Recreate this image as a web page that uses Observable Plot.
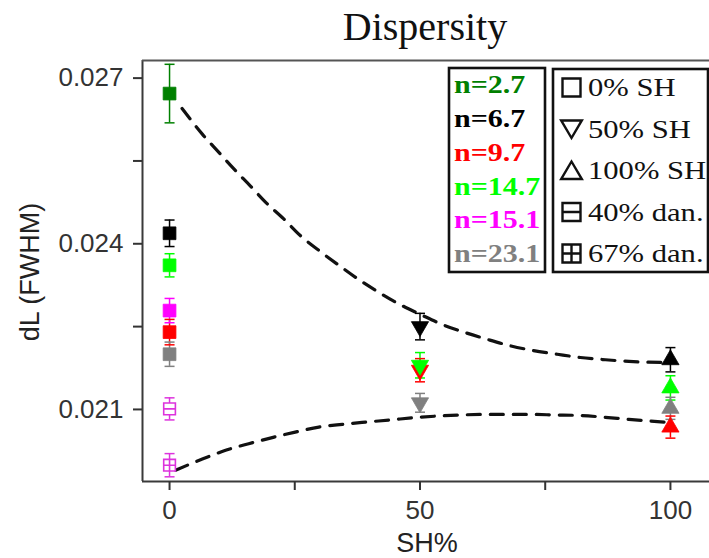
<!DOCTYPE html>
<html>
<head>
<meta charset="utf-8">
<script src="https://cdn.jsdelivr.net/npm/d3@7"></script>
<script src="https://cdn.jsdelivr.net/npm/@observablehq/plot@0.6"></script>
<style>
  body { margin: 0; background: #fff; }
  #chart { width: 709px; height: 558px; }
</style>
</head>
<body>
<div id="chart"></div>
<script>
// Chain-length series (n) measured at three SH contents
const seriesNames  = ["n=2.7", "n=6.7", "n=9.7", "n=14.7", "n=15.1", "n=23.1"];
const seriesColors = ["#008000", "#000000", "#ff0000", "#00ff00", "#ff00ff", "#808080"];
const shLevels = [0, 50, 100];

// dL (FWHM) and its error per series, at 0 %, 50 % and 100 % SH (null = not measured)
const dL_SH0    = [0.02672, 0.02419, 0.02240, 0.02361, 0.02279, 0.02200];
const err_SH0   = [0.00053, 0.00024, 0.00023, 0.00021, 0.00022, 0.00022];
const dL_SH50   = [null, 0.02250, 0.02171, 0.02180, null, 0.02112];
const err_SH50  = [null, 0.00024, 0.00021, 0.00023, null, 0.00017];
const dL_SH100  = [null, 0.02190, 0.02068, 0.02139, null, 0.02102];
const err_SH100 = [null, 0.00022, 0.00020, 0.00022, null, 0.00020];

// Diluted samples (hollow markers)
const danLabels = ["40% dan.", "67% dan."];
const danSH     = [0, 0];
const danDL     = [0.02101, 0.01999];
const danErr    = [0.00020, 0.00021];
const danColor  = "#dd33dd";

// Marker legend
const shapeLabels = ["0% SH", "50% SH", "100% SH", "40% dan.", "67% dan."];

// Dashed guide curves
const upperSH = [2.5, 6.5, 9.8, 12.8, 16.2, 19.2, 22.8, 26.1, 29.8, 33.8, 37.8, 41.8, 45.8, 50.1, 54.4, 59.1, 63.4, 67.7, 72.4, 77.4, 82.0, 87.0, 91.7, 99.0];
const upperDL = [0.02645, 0.02599, 0.02566, 0.02536, 0.02504, 0.02475, 0.02445, 0.02415, 0.02388, 0.02361, 0.02335, 0.02312, 0.02291, 0.02272, 0.02254, 0.02239, 0.02227, 0.02216, 0.02207, 0.02200, 0.02194, 0.02190, 0.02187, 0.02185];
const lowerSH = [1.2, 6.8, 11.2, 15.8, 20.5, 25.1, 29.8, 34.5, 39.1, 44.1, 48.8, 53.4, 58.1, 62.7, 67.4, 72.1, 77.0, 82.0, 86.7, 91.7, 99.0];
const lowerDL = [0.01990, 0.02011, 0.02026, 0.02038, 0.02049, 0.02059, 0.02068, 0.02073, 0.02077, 0.02081, 0.02085, 0.02088, 0.02090, 0.02091, 0.02091, 0.02091, 0.02090, 0.02089, 0.02086, 0.02082, 0.02077];

// Axes
const xDomain = [-5.4, 107.8];
const yDomain = [0.019695, 0.027319];
const xTicks = [0, 25, 50, 75, 100];
const xTickLabels = ["0", "", "50", "", "100"];
const yTicks = [0.021, 0.0225, 0.024, 0.0255, 0.027];
const yTickLabels = ["0.021", "", "0.024", "", "0.027"];

// ---- tables built from the arrays above ----
const levelValues = [dL_SH0, dL_SH50, dL_SH100];
const levelErrors = [err_SH0, err_SH50, err_SH100];
const points = [];
seriesNames.forEach((name, i) => {
  shLevels.forEach((sh, j) => {
    const v = levelValues[j][i];
    if (v == null) return;
    points.push({sh, dL: v, err: levelErrors[j][i], series: name, color: seriesColors[i], level: j});
  });
});
const squares = points.filter(d => d.level === 0);
const downTri = points.filter(d => d.level === 1);
const upTri   = points.filter(d => d.level === 2);
const dan = danLabels.map((label, i) => ({label, sh: danSH[i], dL: danDL[i], err: danErr[i], kind: i}));
const upper = upperSH.map((x, i) => ({x, y: upperDL[i]}));
const lower = lowerSH.map((x, i) => ({x, y: lowerDL[i]}));

// custom symbols
const capSymbol = {draw(ctx) { ctx.moveTo(-5, 0); ctx.lineTo(5, 0); }};
const squareBar = {draw(ctx, size) {
  const s = Math.sqrt(size) / 2;
  ctx.rect(-s, -s, 2 * s, 2 * s);
  ctx.moveTo(-s, 0); ctx.lineTo(s, 0);
}};
const squarePlus = {draw(ctx, size) {
  const s = Math.sqrt(size) / 2;
  ctx.rect(-s, -s, 2 * s, 2 * s);
  ctx.moveTo(-s, 0); ctx.lineTo(s, 0);
  ctx.moveTo(0, -s); ctx.lineTo(0, s);
}};

const xLabelMap = new Map(xTicks.map((t, i) => [t, xTickLabels[i]]));
const yLabelMap = new Map(yTicks.map((t, i) => [t, yTickLabels[i]]));

const errorMarks = (data, color) => [
  Plot.ruleX(data, {x: "sh", y1: d => d.dL - d.err, y2: d => d.dL + d.err, stroke: color, strokeWidth: 1.5}),
  Plot.dot(data, {x: "sh", y: d => d.dL + d.err, symbol: capSymbol, stroke: color, strokeWidth: 1.5, r: 3}),
  Plot.dot(data, {x: "sh", y: d => d.dL - d.err, symbol: capSymbol, stroke: color, strokeWidth: 1.5, r: 3})
];

const chart = Plot.plot({
  width: 709,
  height: 558,
  marginLeft: 142,
  marginRight: 0,
  marginTop: 60,
  marginBottom: 77,
  x: {domain: xDomain, axis: null},
  y: {domain: yDomain, axis: null},
  style: {fontFamily: "'Liberation Sans', Arial, sans-serif", color: "#333", background: "#fff", overflow: "visible"},
  marks: [
    // frame: left, top, bottom
    Plot.ruleX([xDomain[0]], {stroke: "#3a3a3a", strokeWidth: 2}),
    Plot.ruleY([yDomain[1]], {stroke: "#555", strokeWidth: 2}),
    Plot.ruleY([yDomain[0]], {stroke: "#3a3a3a", strokeWidth: 2}),
    Plot.axisX({ticks: xTicks, tickFormat: d => xLabelMap.get(d) ?? "", tickSize: 9, tickPadding: 10,
                fontSize: 26, label: null, stroke: "#333", strokeWidth: 2}),
    Plot.axisY({ticks: yTicks, tickFormat: d => yLabelMap.get(d) ?? "", tickSize: 9, tickPadding: 10,
                fontSize: 26, label: null, stroke: "#333", strokeWidth: 2}),
    // guide curves
    Plot.line(upper, {x: "x", y: "y", curve: "monotone-x", stroke: "#111", strokeWidth: 3.2, strokeDasharray: "13,10"}),
    Plot.line(lower, {x: "x", y: "y", curve: "monotone-x", stroke: "#111", strokeWidth: 3.2, strokeDasharray: "13,10"}),
    // diluted samples
    ...errorMarks(dan, danColor),
    Plot.dot(dan, {x: "sh", y: "dL", symbol: d => d.kind === 0 ? squareBar : squarePlus,
                   r: 6.6, fill: "#fff", stroke: danColor, strokeWidth: 1.6}),
    // series error bars and markers
    ...errorMarks(points, d => d.color),
    Plot.dot(squares, {x: "sh", y: "dL", symbol: "square", r: 7.2, fill: "color", stroke: "color", strokeWidth: 0.8}),
    Plot.dot(downTri, {x: "sh", y: "dL", symbol: "triangle", rotate: 180, r: 6.4, fill: "color", stroke: "color", strokeWidth: 0.8}),
    Plot.dot(upTri,   {x: "sh", y: "dL", symbol: "triangle", r: 6.4, fill: "color", stroke: "color", strokeWidth: 0.8})
  ]
});

document.getElementById("chart").appendChild(chart);

// ---- title, axis titles and legends ----
const svg = d3.select(chart);
const serif = "'Liberation Serif', 'Times New Roman', serif";
const sans = "'Liberation Sans', Arial, sans-serif";

svg.append("text")
  .attr("x", 425).attr("y", 40)
  .attr("text-anchor", "middle")
  .attr("font-family", serif).attr("font-size", 40).attr("fill", "#111")
  .text("Dispersity");

svg.append("text")
  .attr("transform", "translate(39,272) rotate(-90)")
  .attr("text-anchor", "middle")
  .attr("font-family", sans).attr("font-size", 27).attr("fill", "#222")
  .text("dL (FWHM)");

svg.append("text")
  .attr("x", 427).attr("y", 552)
  .attr("text-anchor", "middle")
  .attr("font-family", sans).attr("font-size", 27).attr("fill", "#222")
  .text("SH%");

// colour legend (glyphs drawn slightly widened)
const lg1 = svg.append("g").attr("text-anchor", "start");
lg1.append("rect").attr("x", 449).attr("y", 68).attr("width", 96).attr("height", 204)
  .attr("fill", "#fff").attr("stroke", "#111").attr("stroke-width", 2.6);
seriesNames.forEach((name, i) => {
  lg1.append("text")
    .attr("transform", `translate(454,${84.5 + i * 33.8}) scale(1.2,1)`)
    .attr("dy", "0.35em")
    .attr("text-anchor", "start")
    .attr("font-family", serif).attr("font-size", 25).attr("font-weight", "bold")
    .attr("fill", seriesColors[i])
    .text(name);
});

// marker legend
const lg2 = svg.append("g").attr("text-anchor", "start");
lg2.append("rect").attr("x", 553).attr("y", 69).attr("width", 155).attr("height", 203)
  .attr("fill", "#fff").attr("stroke", "#111").attr("stroke-width", 2.6);
const shapePaths = [
  s => `M${-s},${-s}H${s}V${s}H${-s}Z`,
  s => `M${-s * 1.15},${-s * 0.95}H${s * 1.15}L0,${s}Z`,
  s => `M${-s * 1.15},${s * 0.95}H${s * 1.15}L0,${-s}Z`,
  s => `M${-s},${-s}H${s}V${s}H${-s}Z M${-s},0H${s}`,
  s => `M${-s},${-s}H${s}V${s}H${-s}Z M${-s},0H${s} M0,${-s}V${s}`
];
shapeLabels.forEach((label, i) => {
  const cy = 87.5 + i * 41.5;
  lg2.append("path")
    .attr("transform", `translate(571.5,${cy})`)
    .attr("d", shapePaths[i](9))
    .attr("fill", "none").attr("stroke", "#111").attr("stroke-width", 2.4);
  lg2.append("text")
    .attr("transform", `translate(588,${cy}) scale(1.2,1)`)
    .attr("dy", "0.35em")
    .attr("text-anchor", "start")
    .attr("font-family", serif).attr("font-size", 25.5).attr("fill", "#111")
    .text(label);
});
</script>
</body>
</html>
